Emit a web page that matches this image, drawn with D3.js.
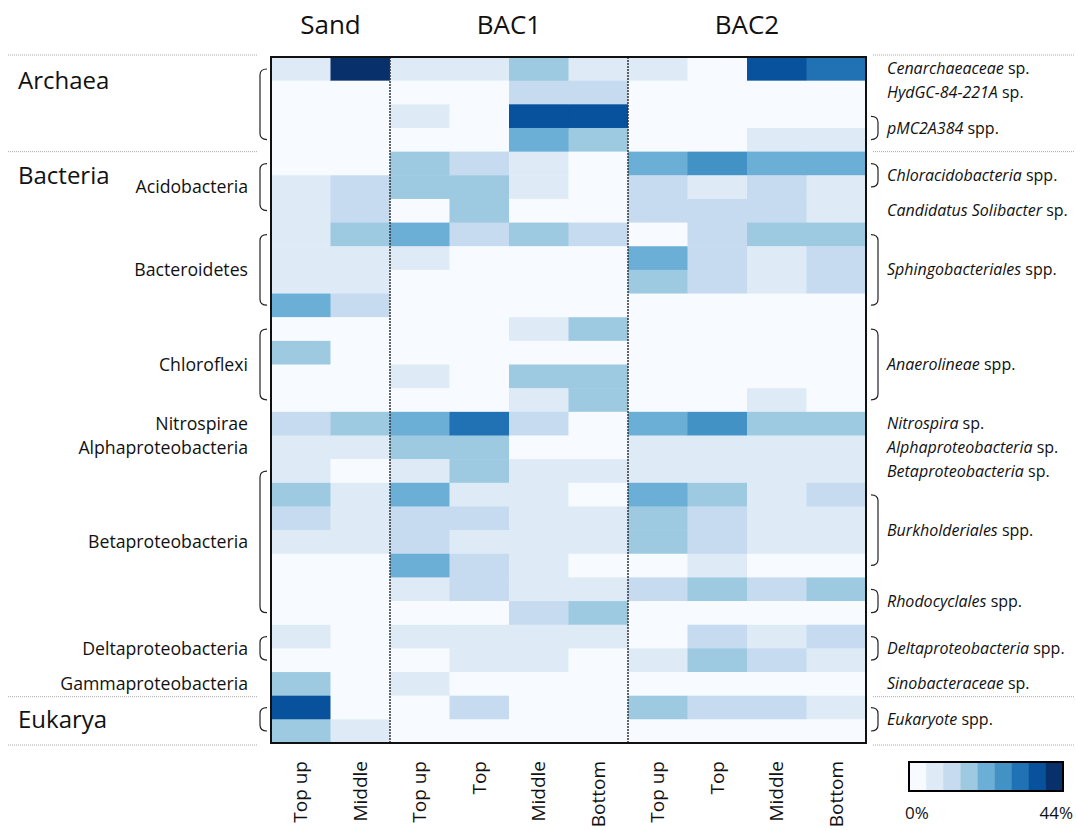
<!DOCTYPE html>
<html>
<head>
<meta charset="utf-8">
<script src="https://cdn.jsdelivr.net/npm/d3@7"></script>
<style>
  body { margin: 0; background: #fff; }
  text { font-family: "Open Sans", "Noto Sans", sans-serif; fill: #111; }
</style>
</head>
<body>
<div id="chart"></div>
<script>
// relative abundance (%) for each sample, one value per taxon row, top to bottom
var sandTopUp   = [6, 1, 0, 0, 1, 7, 6, 8, 7, 6, 22, 0, 17, 1, 0, 12, 7, 6, 16, 11, 7, 1, 0, 1, 6, 0, 17, 37, 16];
var sandMiddle  = [42, 0, 0, 1, 0, 12, 11, 16, 7, 6, 12, 0, 1, 0, 0, 17, 6, 2, 6, 7, 8, 0, 1, 0, 1, 0, 1, 0, 7];
var bac1TopUp   = [7, 1, 6, 0, 17, 16, 1, 22, 6, 0, 0, 1, 0, 7, 0, 21, 18, 6, 23, 12, 11, 22, 6, 1, 7, 1, 6, 0, 1];
var bac1Top     = [6, 0, 1, 0, 12, 17, 16, 11, 0, 1, 0, 0, 1, 0, 1, 32, 17, 16, 7, 12, 6, 13, 12, 0, 6, 7, 0, 12, 0];
var bac1Middle  = [18, 13, 37, 21, 7, 6, 1, 17, 1, 0, 0, 6, 0, 17, 7, 12, 1, 7, 6, 8, 7, 6, 7, 11, 7, 6, 0, 1, 0];
var bac1Bottom  = [6, 11, 36, 16, 1, 0, 0, 12, 0, 1, 0, 18, 0, 16, 17, 0, 1, 6, 0, 7, 6, 0, 7, 17, 6, 0, 1, 0, 1];
var bac2TopUp   = [7, 0, 0, 1, 22, 12, 11, 1, 21, 16, 0, 0, 0, 0, 0, 22, 6, 7, 21, 17, 16, 0, 12, 0, 1, 6, 0, 17, 0];
var bac2Top     = [1, 0, 0, 0, 27, 7, 12, 11, 12, 13, 0, 0, 0, 0, 0, 26, 6, 7, 17, 12, 11, 7, 17, 0, 12, 16, 0, 11, 0];
var bac2Middle  = [36, 0, 1, 6, 22, 11, 12, 17, 6, 7, 0, 0, 0, 0, 7, 16, 7, 6, 7, 6, 7, 0, 12, 0, 6, 12, 0, 12, 1];
var bac2Bottom  = [31, 0, 0, 7, 21, 6, 7, 16, 12, 11, 0, 0, 0, 0, 1, 17, 6, 7, 12, 7, 6, 0, 16, 0, 11, 7, 0, 6, 0];

var samples = [sandTopUp, sandMiddle, bac1TopUp, bac1Top, bac1Middle, bac1Bottom,
               bac2TopUp, bac2Top, bac2Middle, bac2Bottom];
var sampleLabels = ["Top up", "Middle", "Top up", "Top", "Middle", "Bottom", "Top up", "Top", "Middle", "Bottom"];

var sites = ["Sand", "BAC1", "BAC2"];
var siteColumns = [[0, 1], [2, 5], [6, 9]];

var domains = ["Archaea", "Bacteria", "Eukarya"];
var domainRows = [[0, 3], [4, 26], [27, 28]];

var phyla = ["Acidobacteria", "Bacteroidetes", "Chloroflexi", "Nitrospirae", "Alphaproteobacteria",
             "Betaproteobacteria", "Deltaproteobacteria", "Gammaproteobacteria"];
var phylumRows = [[4, 6], [7, 10], [11, 14], [15, 15], [16, 16], [17, 23], [24, 25], [26, 26]];

var taxa = ["Cenarchaeaceae", "HydGC-84-221A", "pMC2A384", "Chloracidobacteria", "Candidatus Solibacter",
            "Sphingobacteriales", "Anaerolineae", "Nitrospira", "Alphaproteobacteria", "Betaproteobacteria",
            "Burkholderiales", "Rhodocyclales", "Deltaproteobacteria", "Sinobacteraceae", "Eukaryote"];
var taxaSuffix = ["sp.", "sp.", "spp.", "spp.", "sp.", "spp.", "spp.", "sp.", "sp.", "sp.",
                  "spp.", "spp.", "spp.", "sp.", "spp."];
var taxaRows = [[0, 0], [1, 1], [2, 3], [4, 5], [6, 6], [7, 10], [11, 14], [15, 15], [16, 16], [17, 17],
                [18, 21], [22, 23], [24, 25], [26, 26], [27, 28]];

var legendMin = 0, legendMax = 44;

var nRows = sandTopUp.length;
var W = 1076, H = 830;

var svg = d3.select("#chart").append("svg")
    .attr("width", W)
    .attr("height", H);

var x = d3.scaleBand().domain(d3.range(samples.length)).range([271, 866]);
var y = d3.scaleBand().domain(d3.range(nRows)).range([57, 743]);
var color = d3.scaleQuantize().domain([legendMin, legendMax]).range(d3.schemeBlues[9]);

// cells
var cells = [];
samples.forEach(function (col, c) {
    col.forEach(function (v, r) { cells.push({ c: c, r: r, v: v }); });
});

svg.append("g").selectAll("rect")
    .data(cells)
    .enter().append("rect")
    .attr("x", function (d) { return x(d.c); })
    .attr("y", function (d) { return y(d.r); })
    .attr("width", x.bandwidth() + 0.5)
    .attr("height", y.bandwidth() + 0.5)
    .attr("fill", function (d) { return color(d.v); });

// site separators
svg.append("g").selectAll("line")
    .data(siteColumns.slice(1))
    .enter().append("line")
    .attr("x1", function (d) { return x(d[0]); })
    .attr("x2", function (d) { return x(d[0]); })
    .attr("y1", y.range()[0])
    .attr("y2", y.range()[1])
    .attr("stroke", "#333")
    .attr("stroke-width", 1.5)
    .attr("stroke-dasharray", "2,1");

svg.append("rect")
    .attr("x", x.range()[0])
    .attr("y", y.range()[0])
    .attr("width", x.range()[1] - x.range()[0])
    .attr("height", y.range()[1] - y.range()[0])
    .attr("fill", "none")
    .attr("stroke", "#111")
    .attr("stroke-width", 2);

// site headers
svg.append("g").selectAll("text")
    .data(sites)
    .enter().append("text")
    .attr("x", function (d, i) {
        var s = siteColumns[i];
        return (x(s[0]) + x(s[1]) + x.bandwidth()) / 2;
    })
    .attr("y", 34)
    .attr("text-anchor", "middle")
    .attr("font-size", 26)
    .text(function (d) { return d; });

// sample labels along the bottom
var xAxis = svg.append("g")
    .attr("transform", "translate(0," + (y.range()[1] + 18) + ")")
    .call(d3.axisBottom(x).tickSize(0).tickFormat(function (i) { return sampleLabels[i]; }));
xAxis.select(".domain").remove();
xAxis.selectAll("text")
    .attr("transform", "rotate(-90)")
    .attr("x", 0)
    .attr("y", 0)
    .attr("dy", "0.35em")
    .attr("text-anchor", "end")
    .attr("font-size", 19)
    .attr("font-family", null)
    .style("fill", "#111");

function rowMid(g) { return (y(g[0]) + y(g[1]) + y.bandwidth()) / 2; }

// dotted domain separators
var sepY = [y(0) - 2, y(domainRows[1][0]), y(domainRows[2][0]) + 1, y.range()[1] + 2];
sepY.forEach(function (yy) {
    [[8, 257], [873, 1075]].forEach(function (seg) {
        svg.append("line")
            .attr("x1", seg[0]).attr("x2", seg[1])
            .attr("y1", yy).attr("y2", yy)
            .attr("stroke", "#aaa")
            .attr("stroke-width", 1)
            .attr("stroke-dasharray", "1,1");
    });
});

// domain labels
svg.append("g").selectAll("text")
    .data(domains)
    .enter().append("text")
    .attr("x", 18)
    .attr("y", function (d, i) { return y(domainRows[i][0]) + 32; })
    .attr("font-size", 24)
    .text(function (d) { return d; });

// phylum labels
svg.append("g").selectAll("text")
    .data(phyla)
    .enter().append("text")
    .attr("x", 248)
    .attr("y", function (d, i) { return rowMid(phylumRows[i]); })
    .attr("dy", "0.35em")
    .attr("text-anchor", "end")
    .attr("font-size", 17.7)
    .text(function (d) { return d; });

// left brackets: multi-row phyla plus Archaea and Eukarya
var leftGroups = phylumRows.filter(function (g) { return g[1] > g[0]; })
    .concat(domainRows.filter(function (g, i) { return domains[i] !== "Bacteria"; }));

svg.append("g").selectAll("path")
    .data(leftGroups)
    .enter().append("path")
    .attr("d", function (g) {
        var y1 = y(g[0]) + 12, y2 = y(g[1]) + y.bandwidth() - 12, a = 267, b = 260;
        return "M" + a + "," + y1 + "Q" + b + "," + y1 + " " + b + "," + (y1 + 6) +
               "L" + b + "," + (y2 - 6) + "Q" + b + "," + y2 + " " + a + "," + y2;
    })
    .attr("fill", "none")
    .attr("stroke", "#222")
    .attr("stroke-width", 1.2);

// right brackets
svg.append("g").selectAll("path")
    .data(taxaRows.filter(function (g) { return g[1] > g[0]; }))
    .enter().append("path")
    .attr("d", function (g) {
        var y1 = y(g[0]) + 12, y2 = y(g[1]) + y.bandwidth() - 12, a = 871, b = 878;
        return "M" + a + "," + y1 + "Q" + b + "," + y1 + " " + b + "," + (y1 + 6) +
               "L" + b + "," + (y2 - 6) + "Q" + b + "," + y2 + " " + a + "," + y2;
    })
    .attr("fill", "none")
    .attr("stroke", "#222")
    .attr("stroke-width", 1.2);

// taxon labels
var taxLabel = svg.append("g").selectAll("text")
    .data(taxa)
    .enter().append("text")
    .attr("x", 887)
    .attr("y", function (d, i) { return rowMid(taxaRows[i]); })
    .attr("dy", "0.35em")
    .attr("font-size", 16);
taxLabel.append("tspan")
    .attr("font-style", "italic")
    .text(function (d) { return d; });
taxLabel.append("tspan")
    .text(function (d, i) { return " " + taxaSuffix[i]; });

// legend
var lx = d3.scaleBand().domain(d3.range(color.range().length)).range([909, 1063]);
var legend = svg.append("g");
legend.selectAll("rect")
    .data(color.range())
    .enter().append("rect")
    .attr("x", function (d, i) { return lx(i); })
    .attr("y", 762)
    .attr("width", lx.bandwidth() + 0.3)
    .attr("height", 29)
    .attr("fill", function (d) { return d; });
legend.append("rect")
    .attr("x", 909).attr("y", 762)
    .attr("width", 154).attr("height", 29)
    .attr("fill", "none")
    .attr("stroke", "#000")
    .attr("stroke-width", 2);
legend.append("text")
    .attr("x", 905).attr("y", 819)
    .attr("font-size", 17)
    .text(legendMin + "%");
legend.append("text")
    .attr("x", 1073).attr("y", 819)
    .attr("text-anchor", "end")
    .attr("font-size", 17)
    .text(legendMax + "%");
</script>
</body>
</html>
